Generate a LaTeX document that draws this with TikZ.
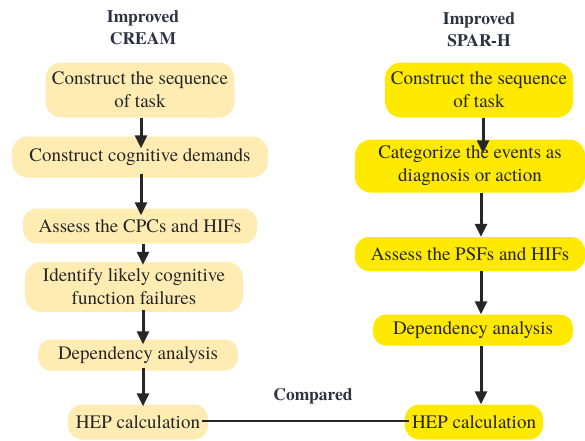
\documentclass[tikz,border=0pt]{standalone}
\usepackage{fontspec}
\setmainfont{TeX Gyre Termes}
\usetikzlibrary{arrows.meta}
\definecolor{paleY}{HTML}{FFECB3}
\definecolor{brightY}{HTML}{FFE900}
\definecolor{txt}{HTML}{262626}
\definecolor{ttl}{HTML}{2B3340}
\begin{document}
\begin{tikzpicture}[x=1pt,y=-1pt,
  box/.style={rounded corners=16pt, inner sep=0pt, align=center, text=txt,
    font=\fontsize{19}{23}\selectfont},
  lbox/.style={box, fill=paleY},
  rbox/.style={box, fill=brightY},
  ttlnode/.style={font=\fontsize{17.5}{22}\selectfont\bfseries, text=ttl, align=center},
  arr/.style={draw=txt, line width=3pt, -{Triangle[length=13pt,width=12pt]}}]
\useasboundingbox (0,0) rectangle (585,440);
% titles
\node[ttlnode] (tl) at (143,28) {Improved\\CREAM};
\node[ttlnode] (tr) at (479,30) {Improved\\SPAR-H};
% left column
\node[lbox, minimum width=189pt, minimum height=55pt] (l1) at (140,90) {Construct the sequence\\of task};
\node[lbox, minimum width=256pt, minimum height=41pt] (l2) at (140,157) {Construct cognitive demands};
\node[lbox, minimum width=234pt, minimum height=35pt, rounded corners=14pt] (l3) at (140,226) {Assess the CPCs and HIFs};
\node[lbox, minimum width=218pt, minimum height=50pt] (l4) at (134,287) {Identify likely cognitive\\function failures};
\node[lbox, minimum width=200pt, minimum height=31pt, rounded corners=13pt] (l5) at (138,355) {Dependency analysis};
\node[lbox, minimum width=140pt, minimum height=35pt, rounded corners=14pt] (l6) at (138,422) {HEP calculation};
% right column
\node[rbox, minimum width=188pt, minimum height=55pt] (r1) at (479,90) {Construct the sequence\\of task};
\node[rbox, minimum width=230pt, minimum height=53pt] (r2) at (470,166) {Categorize the events as\\diagnosis or action};
\node[rbox, minimum width=230pt, minimum height=34pt, rounded corners=14pt] (r3) at (470,254) {Assess the PSFs and HIFs};
\node[rbox, minimum width=200pt, minimum height=31pt, rounded corners=13pt] (r4) at (473,330) {Dependency analysis};
\node[rbox, minimum width=138pt, minimum height=35pt, rounded corners=14pt] (r5) at (474,422) {HEP calculation};
% arrows left
\coordinate (xl) at (141,0);
\coordinate (xl2) at (143,0);
\draw[arr] (l1.south -| xl) -- ([yshift=-12pt]l2.north -| xl);
\draw[arr] ([yshift=4pt]l2.south -| xl) -- ([yshift=-7pt]l3.north -| xl);
\draw[arr] (l3.south -| xl2) -- ([yshift=-3pt]l4.north -| xl2);
\draw[arr] ([yshift=2pt]l4.south -| xl2) -- ([yshift=-5pt]l5.north -| xl2);
\draw[arr] ([yshift=3pt]l5.south -| xl2) -- ([yshift=-2pt]l6.north -| xl2);
% arrows right
\coordinate (xr) at (483,0);
\coordinate (xr2) at (481,0);
\draw[arr] (r1.south -| xr) -- ([yshift=-14pt]r2.north -| xr);
\draw[arr] (r2.south -| xr2) -- (r3.north -| xr2);
\draw[arr] (r3.south -| xr2) -- (r4.north -| xr2);
\draw[arr] (r4.south -| xr2) -- (r5.north -| xr2);
% comparison
\draw[draw=txt, line width=2.2pt] ([xshift=-6pt,yshift=1pt]l6.east) -- ([xshift=4pt,yshift=1pt]r5.west);
\node[ttlnode] (cmp) at (313,396) {Compared};
\end{tikzpicture}
\end{document}
